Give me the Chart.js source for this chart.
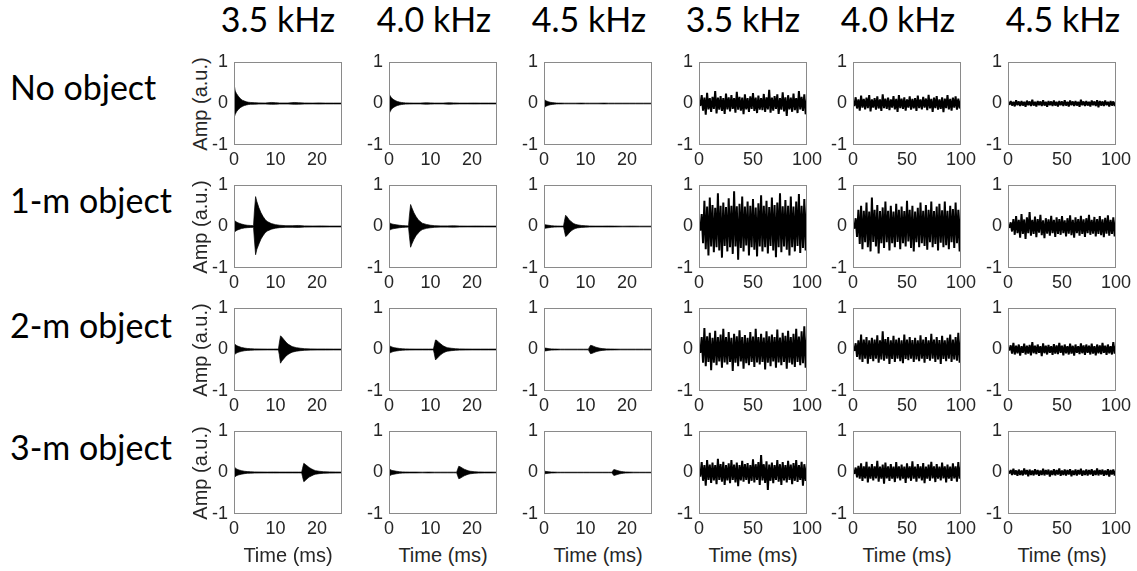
<!DOCTYPE html>
<html>
<head>
<meta charset="utf-8">
<script src="https://cdn.jsdelivr.net/npm/chart.js@4.4.0/dist/chart.umd.min.js"></script>
<style>
  body { margin: 0; background: #fff; width: 1137px; height: 571px; position: relative; overflow: hidden; }
  canvas { position: absolute; }
  .colTitle { position: absolute; width: 200px; text-align: center; font-family: Lato, sans-serif; font-size: 34px; line-height: 34px; color: #000; white-space: nowrap; }
  .rowLabel { position: absolute; left: 10px; font-family: Lato, sans-serif; font-size: 34px; line-height: 34px; color: #000; white-space: nowrap; }
  .ylab { position: absolute; width: 120px; text-align: center; font-family: "Liberation Sans", Arial, sans-serif; font-size: 20px; line-height: 22px; color: #262626; transform: rotate(-90deg); white-space: nowrap; }
  .xlab { position: absolute; width: 140px; text-align: center; font-family: "Liberation Sans", Arial, sans-serif; font-size: 20px; line-height: 22px; color: #262626; white-space: nowrap; }
</style>
</head>
<body>
<script>
// labels and ticks
var columnTitles = ['3.5 kHz', '4.0 kHz', '4.5 kHz', '3.5 kHz', '4.0 kHz', '4.5 kHz'];
var rowLabels = ['No object', '1-m object', '2-m object', '3-m object'];
var ampTicks = [-1, 0, 1];
var shortTimeTicks = [0, 10, 20];
var longTimeTicks = [0, 50, 100];
var shortTimeMax = 26;
var longTimeMax = 100;

// pulse responses (envelopes), time in ms
var pulseTimeNoObj = [0, 0.1, 0.3, 0.6, 1, 1.5, 2, 2.5, 3, 3.5, 4, 5, 6, 7.5, 9, 10, 11, 13, 14.5, 15.5, 17, 19, 20.5, 22, 24, 26];
var noObj35Up = [0.3, 0.42, 0.3, 0.24, 0.18, 0.12, 0.08, 0.06, 0.04, 0.03, 0.025, 0.02, 0.015, 0.012, 0.025, 0.02, 0.012, 0.012, 0.025, 0.02, 0.012, 0.01, 0.015, 0.01, 0.01, 0.01];
var noObj35Lo = [-0.25, -0.32, -0.26, -0.2, -0.15, -0.1, -0.07, -0.05, -0.035, -0.025, -0.02, -0.018, -0.013, -0.012, -0.02, -0.018, -0.012, -0.012, -0.02, -0.018, -0.012, -0.01, -0.013, -0.01, -0.01, -0.01];
var noObj40Up = [0.15, 0.22, 0.18, 0.14, 0.1, 0.07, 0.05, 0.035, 0.025, 0.02, 0.015, 0.012, 0.01, 0.01, 0.018, 0.015, 0.01, 0.01, 0.018, 0.015, 0.01, 0.01, 0.012, 0.01, 0.01, 0.01];
var noObj40Lo = [-0.15, -0.23, -0.19, -0.14, -0.1, -0.07, -0.05, -0.035, -0.025, -0.02, -0.015, -0.012, -0.01, -0.01, -0.018, -0.015, -0.01, -0.01, -0.018, -0.015, -0.01, -0.01, -0.012, -0.01, -0.01, -0.01];
var noObj45Up = [0.06, 0.1, 0.08, 0.06, 0.045, 0.03, 0.022, 0.016, 0.012, 0.01, 0.01, 0.008, 0.008, 0.008, 0.01, 0.008, 0.008, 0.008, 0.01, 0.008, 0.008, 0.008, 0.008, 0.008, 0.008, 0.008];
var noObj45Lo = [-0.06, -0.1, -0.08, -0.06, -0.045, -0.03, -0.022, -0.016, -0.012, -0.01, -0.01, -0.008, -0.008, -0.008, -0.01, -0.008, -0.008, -0.008, -0.01, -0.008, -0.008, -0.008, -0.008, -0.008, -0.008, -0.008];

var pulseTime1m = [0, 0.1, 0.3, 0.7, 1.2, 1.8, 2.5, 3.2, 4, 4.7, 4.9, 5.2, 5.5, 6, 6.5, 7, 7.5, 8, 9, 10, 11, 12.5, 14, 15.5, 17, 19, 21, 23, 26];
var obj1m35Up = [0.1, 0.15, 0.13, 0.1, 0.08, 0.06, 0.04, 0.03, 0.025, 0.02, 0.35, 0.72, 0.6, 0.45, 0.33, 0.24, 0.17, 0.12, 0.07, 0.045, 0.03, 0.02, 0.02, 0.025, 0.015, 0.012, 0.015, 0.01, 0.01];
var obj1m35Lo = [-0.08, -0.13, -0.12, -0.09, -0.07, -0.05, -0.035, -0.028, -0.022, -0.02, -0.3, -0.68, -0.55, -0.42, -0.3, -0.22, -0.15, -0.11, -0.065, -0.04, -0.028, -0.02, -0.02, -0.022, -0.015, -0.012, -0.013, -0.01, -0.01];
var obj1m40Up = [0.06, 0.09, 0.08, 0.06, 0.05, 0.04, 0.03, 0.022, 0.018, 0.015, 0.25, 0.53, 0.45, 0.33, 0.24, 0.17, 0.12, 0.08, 0.05, 0.03, 0.02, 0.015, 0.015, 0.018, 0.012, 0.01, 0.012, 0.01, 0.01];
var obj1m40Lo = [-0.06, -0.09, -0.08, -0.06, -0.05, -0.04, -0.03, -0.022, -0.018, -0.015, -0.22, -0.5, -0.42, -0.31, -0.22, -0.16, -0.11, -0.075, -0.045, -0.03, -0.02, -0.015, -0.015, -0.016, -0.012, -0.01, -0.011, -0.01, -0.01];
var obj1m45Up = [0.03, 0.05, 0.045, 0.035, 0.028, 0.02, 0.015, 0.012, 0.01, 0.01, 0.12, 0.27, 0.24, 0.17, 0.12, 0.08, 0.055, 0.04, 0.025, 0.018, 0.012, 0.01, 0.01, 0.012, 0.01, 0.008, 0.01, 0.008, 0.008];
var obj1m45Lo = [-0.03, -0.05, -0.045, -0.035, -0.028, -0.02, -0.015, -0.012, -0.01, -0.01, -0.1, -0.24, -0.22, -0.16, -0.11, -0.075, -0.05, -0.035, -0.022, -0.016, -0.012, -0.01, -0.01, -0.011, -0.01, -0.008, -0.009, -0.008, -0.008];

var pulseTime2m = [0, 0.1, 0.3, 0.7, 1.2, 1.8, 2.5, 3.2, 4, 5, 6.5, 8, 9.5, 10.7, 10.9, 11.2, 11.5, 12, 12.5, 13, 13.5, 14, 15, 16, 17, 18.5, 20, 22, 24, 26];
var obj2m35Up = [0.1, 0.14, 0.12, 0.09, 0.07, 0.05, 0.035, 0.025, 0.02, 0.015, 0.012, 0.01, 0.01, 0.012, 0.15, 0.33, 0.3, 0.24, 0.18, 0.13, 0.1, 0.07, 0.045, 0.03, 0.02, 0.015, 0.012, 0.012, 0.01, 0.01];
var obj2m35Lo = [-0.08, -0.12, -0.11, -0.08, -0.06, -0.045, -0.03, -0.022, -0.018, -0.014, -0.012, -0.01, -0.01, -0.012, -0.12, -0.33, -0.28, -0.22, -0.16, -0.12, -0.09, -0.065, -0.04, -0.028, -0.02, -0.015, -0.012, -0.012, -0.01, -0.01];
var obj2m40Up = [0.06, 0.09, 0.08, 0.06, 0.045, 0.035, 0.025, 0.018, 0.015, 0.012, 0.01, 0.01, 0.01, 0.01, 0.1, 0.23, 0.22, 0.17, 0.13, 0.09, 0.065, 0.045, 0.03, 0.02, 0.015, 0.012, 0.01, 0.01, 0.01, 0.01];
var obj2m40Lo = [-0.06, -0.09, -0.08, -0.06, -0.045, -0.035, -0.025, -0.018, -0.015, -0.012, -0.01, -0.01, -0.01, -0.01, -0.1, -0.25, -0.22, -0.17, -0.12, -0.085, -0.06, -0.042, -0.028, -0.02, -0.015, -0.012, -0.01, -0.01, -0.01, -0.01];
var obj2m45Up = [0.025, 0.04, 0.035, 0.028, 0.02, 0.015, 0.012, 0.01, 0.008, 0.008, 0.008, 0.008, 0.008, 0.008, 0.05, 0.1, 0.095, 0.075, 0.055, 0.04, 0.03, 0.022, 0.015, 0.012, 0.01, 0.008, 0.008, 0.008, 0.008, 0.008];
var obj2m45Lo = [-0.025, -0.04, -0.035, -0.028, -0.02, -0.015, -0.012, -0.01, -0.008, -0.008, -0.008, -0.008, -0.008, -0.008, -0.05, -0.1, -0.095, -0.075, -0.055, -0.04, -0.03, -0.022, -0.015, -0.012, -0.01, -0.008, -0.008, -0.008, -0.008, -0.008];

var pulseTime3m = [0, 0.1, 0.3, 0.7, 1.2, 1.8, 2.5, 3.2, 4, 5, 6.5, 8, 9.5, 11, 12.5, 14, 15.5, 16.3, 16.5, 16.8, 17.1, 17.6, 18.1, 18.6, 19.1, 19.6, 20.5, 21.5, 23, 24.5, 26];
var obj3m35Up = [0.1, 0.13, 0.11, 0.08, 0.06, 0.045, 0.03, 0.022, 0.018, 0.014, 0.012, 0.01, 0.012, 0.01, 0.01, 0.01, 0.01, 0.01, 0.1, 0.22, 0.2, 0.16, 0.12, 0.09, 0.065, 0.045, 0.03, 0.02, 0.015, 0.012, 0.01];
var obj3m35Lo = [-0.08, -0.11, -0.1, -0.07, -0.055, -0.04, -0.028, -0.02, -0.016, -0.013, -0.011, -0.01, -0.011, -0.01, -0.01, -0.01, -0.01, -0.01, -0.1, -0.22, -0.2, -0.15, -0.11, -0.085, -0.06, -0.042, -0.028, -0.02, -0.015, -0.012, -0.01];
var obj3m40Up = [0.05, 0.08, 0.07, 0.05, 0.04, 0.03, 0.02, 0.015, 0.012, 0.01, 0.01, 0.008, 0.01, 0.008, 0.008, 0.008, 0.008, 0.008, 0.07, 0.15, 0.14, 0.11, 0.08, 0.06, 0.042, 0.03, 0.02, 0.014, 0.01, 0.01, 0.008];
var obj3m40Lo = [-0.05, -0.08, -0.07, -0.05, -0.04, -0.03, -0.02, -0.015, -0.012, -0.01, -0.01, -0.008, -0.01, -0.008, -0.008, -0.008, -0.008, -0.008, -0.07, -0.15, -0.14, -0.11, -0.08, -0.06, -0.042, -0.03, -0.02, -0.014, -0.01, -0.01, -0.008];
var obj3m45Up = [0.02, 0.035, 0.03, 0.022, 0.016, 0.012, 0.01, 0.008, 0.007, 0.007, 0.007, 0.007, 0.007, 0.007, 0.007, 0.007, 0.007, 0.007, 0.03, 0.07, 0.065, 0.05, 0.035, 0.025, 0.018, 0.013, 0.01, 0.008, 0.007, 0.007, 0.007];
var obj3m45Lo = [-0.02, -0.035, -0.03, -0.022, -0.016, -0.012, -0.01, -0.008, -0.007, -0.007, -0.007, -0.007, -0.007, -0.007, -0.007, -0.007, -0.007, -0.007, -0.03, -0.07, -0.065, -0.05, -0.035, -0.025, -0.018, -0.013, -0.01, -0.008, -0.007, -0.007, -0.007];

// noise recordings: oscillation peaks, time in ms
var noiseTime = [0, 1.25, 2.5, 3.75, 5, 6.25, 7.5, 8.75, 10, 11.25,
    12.5, 13.75, 15, 16.25, 17.5, 18.75, 20, 21.25, 22.5, 23.75,
    25, 26.25, 27.5, 28.75, 30, 31.25, 32.5, 33.75, 35, 36.25,
    37.5, 38.75, 40, 41.25, 42.5, 43.75, 45, 46.25, 47.5, 48.75,
    50, 51.25, 52.5, 53.75, 55, 56.25, 57.5, 58.75, 60, 61.25,
    62.5, 63.75, 65, 66.25, 67.5, 68.75, 70, 71.25, 72.5, 73.75,
    75, 76.25, 77.5, 78.75, 80, 81.25, 82.5, 83.75, 85, 86.25,
    87.5, 88.75, 90, 91.25, 92.5, 93.75, 95, 96.25, 97.5, 98.75,
    100];
var noiseNoObj35 = [0.05, -0.06, 0.2, -0.17, 0.14, -0.27, 0.26, -0.14, 0.13, -0.2,
    0.16, -0.13, 0.3, -0.24, 0.14, -0.15, 0.18, -0.18, 0.13, -0.25,
    0.24, -0.14, 0.15, -0.19, 0.2, -0.13, 0.13, -0.22, 0.28, -0.15,
    0.16, -0.17, 0.14, -0.26, 0.22, -0.14, 0.13, -0.2, 0.17, -0.13,
    0.25, -0.18, 0.14, -0.23, 0.19, -0.15, 0.13, -0.16, 0.23, -0.2,
    0.15, -0.14, 0.33, -0.22, 0.14, -0.17, 0.18, -0.13, 0.22, -0.25,
    0.13, -0.15, 0.27, -0.19, 0.15, -0.3, 0.2, -0.14, 0.14, -0.2,
    0.24, -0.16, 0.13, -0.23, 0.3, -0.14, 0.16, -0.18, 0.22, -0.26,
    0.12];
var noiseNoObj40 = [0.04, -0.06, 0.15, -0.12, 0.1, -0.17, 0.19, -0.1, 0.11, -0.14,
    0.14, -0.11, 0.2, -0.19, 0.1, -0.1, 0.13, -0.15, 0.17, -0.12,
    0.1, -0.18, 0.22, -0.11, 0.12, -0.13, 0.14, -0.16, 0.1, -0.1,
    0.18, -0.14, 0.11, -0.2, 0.2, -0.11, 0.12, -0.13, 0.15, -0.17,
    0.1, -0.1, 0.17, -0.15, 0.11, -0.12, 0.13, -0.18, 0.19, -0.11,
    0.1, -0.14, 0.16, -0.1, 0.12, -0.16, 0.21, -0.12, 0.11, -0.2,
    0.14, -0.11, 0.18, -0.15, 0.1, -0.13, 0.15, -0.21, 0.12, -0.11,
    0.2, -0.14, 0.11, -0.17, 0.14, -0.1, 0.17, -0.15, 0.12, -0.12,
    0.09];
var noiseNoObj45 = [0.02, -0.03, 0.06, -0.05, 0.04, -0.07, 0.08, -0.04, 0.05, -0.06,
    0.06, -0.05, 0.04, -0.08, 0.07, -0.04, 0.05, -0.06, 0.09, -0.05,
    0.04, -0.07, 0.06, -0.04, 0.05, -0.06, 0.08, -0.05, 0.04, -0.08,
    0.06, -0.04, 0.05, -0.06, 0.07, -0.05, 0.04, -0.07, 0.06, -0.04,
    0.05, -0.06, 0.08, -0.05, 0.04, -0.07, 0.07, -0.04, 0.05, -0.06,
    0.06, -0.05, 0.04, -0.08, 0.09, -0.04, 0.05, -0.06, 0.06, -0.05,
    0.04, -0.07, 0.07, -0.04, 0.05, -0.06, 0.08, -0.09, 0.06, -0.05,
    0.05, -0.06, 0.07, -0.04, 0.04, -0.07, 0.06, -0.05, 0.05, -0.06,
    0.04];

var noise1m35 = [0.05, -0.1, 0.3, -0.4, 0.62, -0.55, 0.48, -0.7, 0.7, -0.48,
    0.52, -0.62, 0.45, -0.5, 0.8, -0.58, 0.5, -0.75, 0.58, -0.47,
    0.47, -0.6, 0.68, -0.5, 0.5, -0.66, 0.85, -0.48, 0.49, -0.8,
    0.55, -0.52, 0.72, -0.6, 0.48, -0.46, 0.6, -0.7, 0.5, -0.5,
    0.66, -0.56, 0.46, -0.72, 0.56, -0.48, 0.75, -0.6, 0.5, -0.5,
    0.62, -0.65, 0.47, -0.47, 0.7, -0.58, 0.52, -0.74, 0.58, -0.5,
    0.8, -0.62, 0.49, -0.48, 0.64, -0.56, 0.5, -0.7, 0.72, -0.5,
    0.48, -0.6, 0.6, -0.47, 0.78, -0.64, 0.5, -0.52, 0.66, -0.58,
    0.55];
var noise1m40 = [0.03, -0.05, 0.2, -0.25, 0.4, -0.42, 0.5, -0.55, 0.38, -0.38,
    0.58, -0.5, 0.36, -0.6, 0.7, -0.37, 0.4, -0.48, 0.52, -0.65,
    0.37, -0.4, 0.46, -0.52, 0.6, -0.38, 0.38, -0.58, 0.5, -0.4,
    0.36, -0.5, 0.55, -0.37, 0.4, -0.55, 0.48, -0.4, 0.37, -0.48,
    0.62, -0.36, 0.4, -0.52, 0.5, -0.6, 0.36, -0.38, 0.45, -0.5,
    0.58, -0.4, 0.38, -0.47, 0.52, -0.56, 0.4, -0.38, 0.6, -0.5,
    0.37, -0.42, 0.48, -0.58, 0.55, -0.39, 0.39, -0.5, 0.6, -0.45,
    0.38, -0.55, 0.5, -0.38, 0.42, -0.52, 0.58, -0.4, 0.4, -0.6,
    0.45];
var noise1m45 = [0.02, -0.03, 0.1, -0.12, 0.18, -0.2, 0.25, -0.16, 0.16, -0.27,
    0.3, -0.18, 0.17, -0.3, 0.22, -0.16, 0.35, -0.22, 0.16, -0.18,
    0.24, -0.26, 0.18, -0.15, 0.28, -0.21, 0.15, -0.28, 0.2, -0.17,
    0.17, -0.22, 0.26, -0.16, 0.16, -0.25, 0.22, -0.18, 0.18, -0.2,
    0.25, -0.16, 0.15, -0.24, 0.2, -0.17, 0.27, -0.21, 0.16, -0.27,
    0.22, -0.16, 0.18, -0.22, 0.26, -0.18, 0.17, -0.25, 0.2, -0.16,
    0.28, -0.2, 0.16, -0.17, 0.23, -0.24, 0.18, -0.18, 0.25, -0.21,
    0.17, -0.26, 0.21, -0.17, 0.27, -0.22, 0.16, -0.18, 0.22, -0.24,
    0.18];

var noise2m35 = [0.06, -0.08, 0.3, -0.32, 0.52, -0.4, 0.32, -0.3, 0.4, -0.5,
    0.28, -0.32, 0.45, -0.38, 0.3, -0.29, 0.36, -0.44, 0.5, -0.31,
    0.3, -0.36, 0.42, -0.3, 0.28, -0.52, 0.38, -0.32, 0.32, -0.4,
    0.46, -0.29, 0.3, -0.46, 0.35, -0.33, 0.28, -0.38, 0.42, -0.3,
    0.31, -0.42, 0.5, -0.31, 0.3, -0.36, 0.38, -0.3, 0.29, -0.48,
    0.44, -0.32, 0.32, -0.4, 0.36, -0.29, 0.3, -0.44, 0.48, -0.31,
    0.29, -0.38, 0.4, -0.3, 0.33, -0.46, 0.45, -0.32, 0.3, -0.36,
    0.38, -0.42, 0.5, -0.3, 0.31, -0.38, 0.44, -0.33, 0.56, -0.44,
    0.35];
var noise2m40 = [0.02, -0.03, 0.15, -0.18, 0.22, -0.24, 0.36, -0.3, 0.24, -0.22,
    0.3, -0.34, 0.22, -0.23, 0.28, -0.28, 0.24, -0.22, 0.34, -0.32,
    0.22, -0.24, 0.44, -0.27, 0.25, -0.22, 0.3, -0.35, 0.22, -0.23,
    0.33, -0.3, 0.24, -0.22, 0.28, -0.28, 0.22, -0.33, 0.36, -0.23,
    0.24, -0.26, 0.3, -0.22, 0.23, -0.3, 0.28, -0.24, 0.22, -0.28,
    0.34, -0.22, 0.24, -0.32, 0.3, -0.23, 0.22, -0.27, 0.38, -0.22,
    0.24, -0.3, 0.3, -0.24, 0.23, -0.35, 0.33, -0.23, 0.22, -0.28,
    0.28, -0.22, 0.36, -0.3, 0.24, -0.24, 0.3, -0.27, 0.4, -0.32,
    0.26];
var noise2m45 = [0.02, -0.02, 0.1, -0.1, 0.16, -0.12, 0.09, -0.09, 0.12, -0.15,
    0.08, -0.08, 0.14, -0.12, 0.09, -0.1, 0.11, -0.14, 0.18, -0.09,
    0.09, -0.11, 0.12, -0.08, 0.08, -0.16, 0.15, -0.09, 0.09, -0.12,
    0.11, -0.08, 0.08, -0.13, 0.13, -0.1, 0.1, -0.11, 0.16, -0.08,
    0.09, -0.14, 0.12, -0.09, 0.08, -0.12, 0.14, -0.1, 0.09, -0.15,
    0.12, -0.08, 0.08, -0.11, 0.15, -0.09, 0.1, -0.13, 0.12, -0.08,
    0.09, -0.12, 0.14, -0.1, 0.08, -0.14, 0.12, -0.09, 0.1, -0.11,
    0.16, -0.08, 0.09, -0.13, 0.12, -0.09, 0.08, -0.12, 0.18, -0.1,
    0.1];

var noise3m35 = [0.08, -0.1, 0.25, -0.2, 0.18, -0.32, 0.3, -0.18, 0.19, -0.25,
    0.24, -0.19, 0.18, -0.28, 0.33, -0.18, 0.2, -0.22, 0.26, -0.3,
    0.18, -0.19, 0.22, -0.26, 0.3, -0.18, 0.19, -0.24, 0.24, -0.33,
    0.18, -0.19, 0.28, -0.22, 0.2, -0.18, 0.23, -0.27, 0.18, -0.2,
    0.32, -0.24, 0.2, -0.18, 0.25, -0.3, 0.42, -0.19, 0.2, -0.25,
    0.27, -0.42, 0.19, -0.2, 0.24, -0.26, 0.18, -0.18, 0.3, -0.22,
    0.2, -0.3, 0.25, -0.19, 0.18, -0.24, 0.28, -0.18, 0.19, -0.28,
    0.23, -0.2, 0.3, -0.23, 0.18, -0.18, 0.26, -0.32, 0.2, -0.2,
    0.18];
var noise3m40 = [0.02, -0.03, 0.12, -0.12, 0.16, -0.15, 0.22, -0.2, 0.15, -0.14,
    0.26, -0.24, 0.14, -0.15, 0.2, -0.19, 0.15, -0.14, 0.28, -0.22,
    0.14, -0.15, 0.19, -0.27, 0.24, -0.14, 0.15, -0.2, 0.2, -0.15,
    0.14, -0.23, 0.25, -0.14, 0.15, -0.19, 0.19, -0.15, 0.14, -0.25,
    0.22, -0.14, 0.15, -0.2, 0.27, -0.15, 0.14, -0.22, 0.2, -0.14,
    0.15, -0.19, 0.23, -0.26, 0.14, -0.15, 0.19, -0.2, 0.26, -0.14,
    0.15, -0.23, 0.2, -0.15, 0.14, -0.19, 0.24, -0.14, 0.15, -0.24,
    0.19, -0.15, 0.14, -0.2, 0.22, -0.14, 0.15, -0.22, 0.25, -0.15,
    0.16];
var noise3m45 = [0.02, -0.02, 0.06, -0.06, 0.09, -0.05, 0.05, -0.08, 0.07, -0.06,
    0.05, -0.07, 0.1, -0.05, 0.06, -0.09, 0.07, -0.06, 0.05, -0.07,
    0.08, -0.05, 0.06, -0.08, 0.05, -0.06, 0.09, -0.07, 0.06, -0.05,
    0.07, -0.1, 0.05, -0.06, 0.08, -0.07, 0.06, -0.05, 0.1, -0.08,
    0.05, -0.06, 0.07, -0.07, 0.06, -0.05, 0.08, -0.09, 0.05, -0.06,
    0.07, -0.07, 0.06, -0.05, 0.09, -0.08, 0.05, -0.06, 0.07, -0.07,
    0.06, -0.05, 0.08, -0.08, 0.05, -0.06, 0.1, -0.07, 0.06, -0.05,
    0.07, -0.08, 0.05, -0.06, 0.08, -0.1, 0.06, -0.05, 0.07, -0.07,
    0.05];

// grid of panels [row][col]: pulses are [time, upper, lower], noise is [time, peaks]
var panels = [
    [
        [pulseTimeNoObj, noObj35Up, noObj35Lo], [pulseTimeNoObj, noObj40Up, noObj40Lo], [pulseTimeNoObj, noObj45Up, noObj45Lo],
        [noiseTime, noiseNoObj35], [noiseTime, noiseNoObj40], [noiseTime, noiseNoObj45]
    ],
    [
        [pulseTime1m, obj1m35Up, obj1m35Lo], [pulseTime1m, obj1m40Up, obj1m40Lo], [pulseTime1m, obj1m45Up, obj1m45Lo],
        [noiseTime, noise1m35], [noiseTime, noise1m40], [noiseTime, noise1m45]
    ],
    [
        [pulseTime2m, obj2m35Up, obj2m35Lo], [pulseTime2m, obj2m40Up, obj2m40Lo], [pulseTime2m, obj2m45Up, obj2m45Lo],
        [noiseTime, noise2m35], [noiseTime, noise2m40], [noiseTime, noise2m45]
    ],
    [
        [pulseTime3m, obj3m35Up, obj3m35Lo], [pulseTime3m, obj3m40Up, obj3m40Lo], [pulseTime3m, obj3m45Up, obj3m45Lo],
        [noiseTime, noise3m35], [noiseTime, noise3m40], [noiseTime, noise3m45]
    ]
];

// layout of the plot boxes (px)
var boxLefts = [234, 389, 544, 699, 853, 1008];
var boxTops = [62, 185, 308, 431];
var boxW = 108, boxH = 83;
var padL = 36, padT = 12, padR = 18, padB = 26;
var titleCenters = [278, 434, 589, 743, 898, 1063];
var rowBaselines = [100, 213, 338, 460];

var tickFont = { family: '"Liberation Sans", Arial, sans-serif', size: 18 };

// plain box around the plot area (matlab style)
var boxPlugin = {
    id: 'boxFrame',
    afterDraw: function (chart) {
        var a = chart.chartArea, ctx = chart.ctx;
        ctx.save();
        ctx.strokeStyle = '#8a8a8a';
        ctx.lineWidth = 1;
        ctx.strokeRect(a.left + 0.5, a.top + 0.5, a.right - a.left - 1, a.bottom - a.top - 1);
        ctx.restore();
    }
};

function toPoints(t, v) {
    return t.map(function (x, i) { return { x: x, y: v[i] }; });
}

function makeDatasets(p) {
    if (p.length == 2) {
        // noise: the oscillation itself, thick enough to close up like the dense original
        return [{
            data: toPoints(p[0], p[1]),
            borderColor: '#000',
            borderWidth: 2,
            borderJoinStyle: 'bevel',
            pointRadius: 0,
            tension: 0,
            fill: false
        }];
    }
    // pulses: filled envelope
    return [{
        data: toPoints(p[0], p[1]),
        borderColor: '#000',
        backgroundColor: '#000',
        borderWidth: 0.7,
        pointRadius: 0,
        tension: 0,
        fill: '+1'
    }, {
        data: toPoints(p[0], p[2]),
        borderColor: '#000',
        borderWidth: 0.7,
        pointRadius: 0,
        tension: 0,
        fill: false
    }];
}

function makePanel(r, c) {
    var isShort = c < 3;
    var xTicks = isShort ? shortTimeTicks : longTimeTicks;
    var cv = document.createElement('canvas');
    cv.width = boxW + padL + padR;
    cv.height = boxH + padT + padB;
    cv.style.left = (boxLefts[c] - padL) + 'px';
    cv.style.top = (boxTops[r] - padT) + 'px';
    document.body.appendChild(cv);

    new Chart(cv, {
        type: 'line',
        data: { datasets: makeDatasets(panels[r][c]) },
        options: {
            responsive: false,
            animation: false,
            devicePixelRatio: 1,
            layout: { padding: { left: 0, top: padT, right: padR, bottom: 0 } },
            plugins: { legend: { display: false }, tooltip: { enabled: false } },
            scales: {
                x: {
                    type: 'linear',
                    min: 0,
                    max: isShort ? shortTimeMax : longTimeMax,
                    grid: { display: false, drawTicks: false },
                    border: { display: false },
                    ticks: { font: tickFont, color: '#262626', padding: 4, autoSkip: false, maxRotation: 0 },
                    afterBuildTicks: function (s) { s.ticks = xTicks.map(function (v) { return { value: v }; }); },
                    afterFit: function (s) { s.height = padB; s.paddingLeft = 0; s.paddingRight = 0; }
                },
                y: {
                    min: -1,
                    max: 1,
                    grid: { display: false, drawTicks: false },
                    border: { display: false },
                    ticks: { font: tickFont, color: '#262626', padding: 6 },
                    afterBuildTicks: function (s) { s.ticks = ampTicks.map(function (v) { return { value: v }; }); },
                    afterFit: function (s) { s.width = padL; s.paddingTop = 0; s.paddingBottom = 0; }
                }
            }
        },
        plugins: [boxPlugin]
    });
}

function addDiv(cls, text, left, top) {
    var d = document.createElement('div');
    d.className = cls;
    d.textContent = text;
    d.style.left = left + 'px';
    d.style.top = top + 'px';
    document.body.appendChild(d);
    return d;
}

for (var c = 0; c < columnTitles.length; c++) {
    addDiv('colTitle', columnTitles[c], titleCenters[c] - 100, 2);
}
for (var r = 0; r < rowLabels.length; r++) {
    addDiv('rowLabel', rowLabels[r], 10, rowBaselines[r] - 30);
    // y axis title, first column only
    addDiv('ylab', 'Amp (a.u.)', 200 - 60, boxTops[r] + boxH / 2 - 11);
    for (var c2 = 0; c2 < 6; c2++) {
        makePanel(r, c2);
    }
}
// x axis title, bottom row only
for (var c3 = 0; c3 < 6; c3++) {
    addDiv('xlab', 'Time (ms)', boxLefts[c3] + boxW / 2 - 70, 544);
}
</script>
</body>
</html>
